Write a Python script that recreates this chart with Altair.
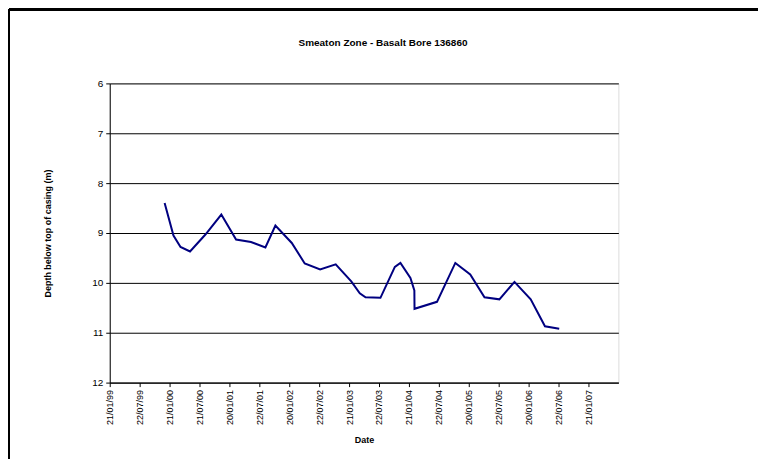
import altair as alt
import pandas as pd

dates = [
    "1999-12-22", "2000-02-14", "2000-03-28", "2000-05-25", "2000-08-27",
    "2000-12-02", "2001-03-02", "2001-06-01", "2001-08-28", "2001-10-28",
    "2002-02-05", "2002-04-25", "2002-07-28", "2002-10-31", "2003-02-03",
    "2003-03-27", "2003-05-01", "2003-07-31", "2003-10-27", "2003-11-30",
    "2004-01-30", "2004-02-23", "2004-02-24", "2004-07-10", "2004-10-30",
    "2005-01-29", "2005-04-26", "2005-07-26", "2005-10-26", "2006-02-02",
    "2006-04-30", "2006-07-26",
]
depths = [
    8.40, 9.05, 9.28, 9.37, 9.03,
    8.63, 9.13, 9.18, 9.29, 8.85,
    9.20, 9.61, 9.73, 9.63, 9.97,
    10.21, 10.29, 10.30, 9.68, 9.60,
    9.90, 10.15, 10.52, 10.38, 9.60,
    9.83, 10.29, 10.33, 9.98, 10.33,
    10.87, 10.92,
]
tick_dates = [
    "1999-01-21", "1999-07-22", "2000-01-21", "2000-07-21", "2001-01-20",
    "2001-07-22", "2002-01-20", "2002-07-22", "2003-01-21", "2003-07-22",
    "2004-01-21", "2004-07-22", "2005-01-20", "2005-07-22", "2006-01-20",
    "2006-07-22", "2007-01-21",
]
x_domain = ["1999-01-21", "2007-07-22"]
y_ticks = [6, 7, 8, 9, 10, 11, 12]
chart_title = "Smeaton Zone - Basalt Bore 136860"

df = pd.DataFrame({"date": dates, "depth": depths})
title_df = pd.DataFrame({"t": [chart_title]})

FONT = "Liberation Sans"

x_enc = alt.X(
    "date:T",
    scale=alt.Scale(type="utc", domain=x_domain, nice=False),
    axis=alt.Axis(
        values=tick_dates,
        labelExpr="utcFormat(datum.value, '%d/%m/%y')",
        labelAngle=270,
        labelFontSize=9,
        labelFont=FONT,
        labelColor="#000000",
        labelPadding=3,
        tickSize=4,
        tickColor="#000000",
        domainColor="#000000",
        grid=False,
        title="Date",
        titleFont=FONT,
        titleFontSize=9,
        titleFontWeight="bold",
        titleX=255,
        titleY=57,
        titleAlign="center",
        titleBaseline="middle",
        labelOverlap=False,
    ),
)

y_enc = alt.Y(
    "depth:Q",
    scale=alt.Scale(domain=[6, 12], reverse=True, nice=False, zero=False),
    axis=alt.Axis(
        values=y_ticks,
        format="d",
        labelFontSize=10,
        labelFont=FONT,
        labelColor="#000000",
        labelPadding=3,
        tickSize=4,
        tickColor="#000000",
        domainColor="#000000",
        grid=True,
        gridColor="#000000",
        gridWidth=1,
        title="Depth below top of casing (m)",
        titleFont=FONT,
        titleFontSize=9,
        titleFontWeight="bold",
        titleAngle=270,
        titleX=-62,
        titleY=150,
        titleAlign="center",
        titleBaseline="middle",
    ),
)

line = alt.Chart(df).mark_line(color="#000080", strokeWidth=2).encode(x=x_enc, y=y_enc)

title_mark = alt.Chart(title_df).mark_text(
    font=FONT, fontSize=10, fontWeight="bold", color="#000000",
    align="center", baseline="middle", clip=False,
).encode(text="t:N", x=alt.value(274), y=alt.value(-40))

top_border = alt.Chart(df).mark_rule(color="#000000", strokeWidth=2, clip=False).encode(
    x=alt.value(-101), x2=alt.value(660), y=alt.value(-74)
)
left_border = alt.Chart(df).mark_rule(color="#000000", strokeWidth=2, clip=False).encode(
    x=alt.value(-101), y=alt.value(-74), y2=alt.value(380)
)

chart = (
    alt.layer(line, title_mark, top_border, left_border)
    .properties(
        width=510,
        height=300,
        padding={"left": 102, "top": 75, "right": 140, "bottom": 76},
        autosize=alt.AutoSizeParams(type="none"),
    )
    .configure_view(stroke="#808080", strokeWidth=1)
    .configure(background="#ffffff")
)

chart.save("out.html", embed_options={"renderer": "svg", "actions": False})
